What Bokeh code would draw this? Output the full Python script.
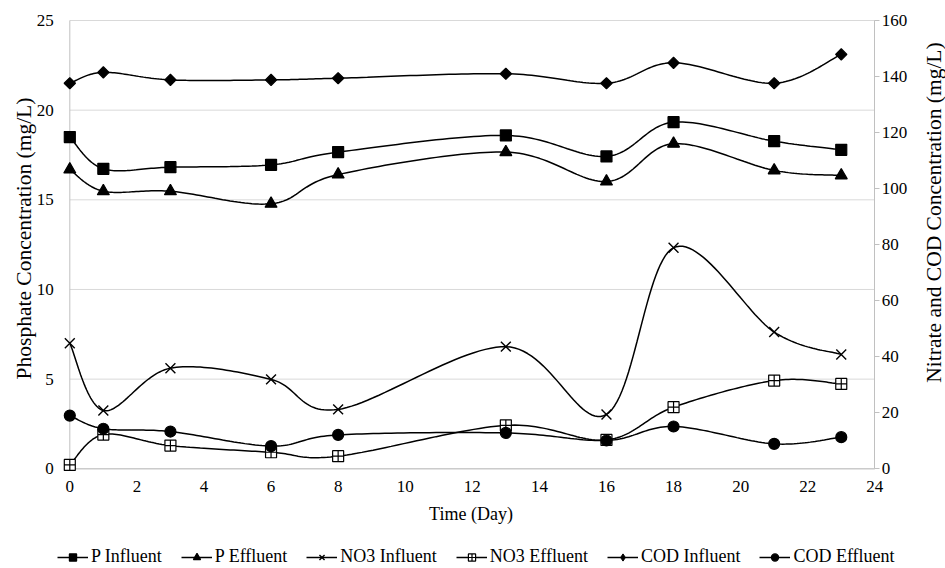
import numpy as np
from bokeh.plotting import figure
from bokeh.models import Range1d, LinearAxis, FixedTicker, Legend, LegendItem, Label
from bokeh.embed import file_html
from bokeh.resources import INLINE

# ---------------- data ----------------
days = [0, 1, 3, 6, 8, 13, 16, 18, 21, 23]
p_influent = [18.5, 16.73, 16.82, 16.95, 17.66, 18.59, 17.42, 19.33, 18.27, 17.79]
p_effluent = [16.69, 15.48, 15.48, 14.78, 16.41, 17.66, 16.02, 18.13, 16.64, 16.36]
no3_influent = [44.8, 20.8, 35.9, 31.9, 21.2, 43.6, 19.4, 78.9, 48.8, 40.8]
no3_effluent = [1.4, 12.2, 8.3, 5.9, 4.5, 15.5, 10.3, 22.0, 31.5, 30.3]
cod_influent = [137.6, 141.5, 138.8, 138.8, 139.4, 141.0, 137.6, 144.9, 137.6, 147.9]
cod_effluent = [19.0, 14.3, 13.3, 8.1, 12.1, 12.8, 10.1, 15.1, 8.9, 11.3]

x_ticks = list(range(0, 25, 2))
left_ticks = [0, 5, 10, 15, 20, 25]
right_ticks = list(range(0, 161, 20))

series_labels = ["P Influent", "P Effluent", "NO3 Influent", "NO3 Effluent",
                 "COD Influent", "COD Effluent"]

FONT = "Liberation Serif"
GRID = "#d9d9d9"
AXIS = "#c0c0c0"
W, H = 945, 568


def smooth(xs, ys, n=30):
    """Excel-like smoothed line: cubic Bezier with Catmull-Rom control points."""
    P = np.column_stack([np.asarray(xs, float), np.asarray(ys, float)])
    Q = np.vstack([P[0], P, P[-1]])
    t = np.linspace(0, 1, n)[:, None]
    pts = []
    for i in range(len(P) - 1):
        p0, p3 = P[i], P[i + 1]
        c1 = p0 + (Q[i + 2] - Q[i]) / 6.0
        c2 = p3 - (Q[i + 3] - Q[i + 1]) / 6.0
        seg = ((1 - t) ** 3) * p0 + 3 * ((1 - t) ** 2) * t * c1 + 3 * (1 - t) * t ** 2 * c2 + t ** 3 * p3
        pts.append(seg if i == 0 else seg[1:])
    pts = np.vstack(pts)
    return pts[:, 0], pts[:, 1]


# the frame covers the whole canvas; the axis box sits inside it
box_left, box_right, box_top, box_bottom = 69.3, 874.3, 20.0, 468.3   # pixels
xpx = (box_right - box_left) / (x_ticks[-1] - x_ticks[0])
ypx = (box_bottom - box_top) / (left_ticks[-1] - left_ticks[0])
x_lo = x_ticks[0] - box_left / xpx
x_hi = x_ticks[-1] + (W - box_right) / xpx
y_lo = left_ticks[0] - (H - box_bottom) / ypx
y_hi = left_ticks[-1] + box_top / ypx
ratio = right_ticks[-1] / left_ticks[-1]

p = figure(width=W, height=H, output_backend="svg", toolbar_location=None,
           x_range=Range1d(x_lo, x_hi), y_range=Range1d(y_lo, y_hi),
           min_border_left=0, min_border_right=0, min_border_top=0,
           min_border_bottom=0)
p.title.visible = False
p.extra_y_ranges = {"right": Range1d(y_lo * ratio, y_hi * ratio)}
p.outline_line_color = None
p.background_fill_color = "white"
p.border_fill_color = "white"
p.xgrid.visible = False
p.ygrid.visible = False

# gridlines limited to the axis box, then the left/bottom axis lines
n = len(left_ticks)
p.segment(x0=[x_ticks[0]] * n, x1=[x_ticks[-1]] * n, y0=left_ticks, y1=left_ticks,
          line_color=GRID, line_width=1)
p.segment(x0=[x_ticks[0], x_ticks[0]], x1=[x_ticks[0], x_ticks[-1]],
          y0=[left_ticks[0], left_ticks[0]], y1=[left_ticks[-1], left_ticks[0]],
          line_color=AXIS, line_width=1)

# x axis
xa = p.xaxis[0]
xa.fixed_location = left_ticks[0]
xa.ticker = FixedTicker(ticks=x_ticks)
xa.major_tick_in = 0
xa.major_tick_out = 0
xa.minor_tick_in = 0
xa.minor_tick_out = 0
xa.major_tick_line_color = None
xa.minor_tick_line_color = None
xa.axis_line_color = None
xa.major_label_standoff = 12
xa.major_label_text_font = FONT
xa.major_label_text_font_size = "17px"
xa.major_label_text_color = "black"

# left axis
ya = p.yaxis[0]
ya.fixed_location = x_ticks[0]
ya.ticker = FixedTicker(ticks=left_ticks)
ya.major_tick_in = 0
ya.major_tick_out = 0
ya.minor_tick_in = 0
ya.minor_tick_out = 0
ya.major_tick_line_color = None
ya.minor_tick_line_color = None
ya.axis_line_color = None
ya.major_label_standoff = 16
ya.major_label_text_font = FONT
ya.major_label_text_font_size = "17px"
ya.major_label_text_color = "black"

# right axis
ra = LinearAxis(y_range_name="right", fixed_location=x_ticks[-1],
                bounds=(right_ticks[0], right_ticks[-1]),
                ticker=FixedTicker(ticks=right_ticks),
                major_tick_in=0, major_tick_out=5, minor_tick_in=0, minor_tick_out=0,
                major_tick_line_color=AXIS, minor_tick_line_color=None,
                axis_line_color=AXIS, major_label_standoff=2,
                major_label_text_font=FONT, major_label_text_font_size="17px",
                major_label_text_color="black")
p.add_layout(ra, "right")

# axis titles
title_style = dict(x_units="screen", y_units="screen", text_align="center",
                   text_baseline="middle", text_font=FONT, text_color="black")
p.add_layout(Label(x=470.5, y=H - 513, text="Time (Day)", text_font_size="18px",
                   **title_style))
p.add_layout(Label(x=23, y=H - 238, text="Phosphate Concentration (mg/L)",
                   angle=np.pi / 2, text_font_size="21.5px", **title_style))
p.add_layout(Label(x=933, y=H - 212, text="Nitrate and COD Concentration (mg/L)",
                   angle=np.pi / 2, text_font_size="21.5px", **title_style))

# series
styles = [
    dict(data=p_influent, rng="default", marker="square", size=11, fill="black", angle=0.0),
    dict(data=p_effluent, rng="default", marker="triangle", size=12, fill="black", angle=0.0),
    dict(data=no3_influent, rng="right", marker="x", size=14, fill="black", angle=0.0),
    dict(data=no3_effluent, rng="right", marker="square_cross", size=11, fill="white", angle=0.0),
    dict(data=cod_influent, rng="right", marker="square", size=8, fill="black", angle=np.pi / 4),
    dict(data=cod_effluent, rng="right", marker="circle", size=11, fill="black", angle=0.0),
]

items = []
for lab, st in zip(series_labels, styles):
    sx, sy = smooth(days, st["data"])
    lr = p.line(sx, sy, line_color="black", line_width=1.5, y_range_name=st["rng"])
    lw = 1.4 if st["marker"] == "x" else 1.2
    mr = p.scatter(days, st["data"], marker=st["marker"], size=st["size"],
                   fill_color=st["fill"], line_color="black", line_width=lw,
                   angle=st["angle"], y_range_name=st["rng"])
    rends = [lr, mr]
    if st["angle"] != 0.0:
        # legend glyphs ignore the angle, so the legend gets its own diamond key
        # (a single NaN point: nothing is drawn in the plot area)
        key = p.scatter(x=[np.nan], y=[np.nan], marker="diamond", size=14,
                        fill_color=st["fill"], line_color="black", line_width=1.0,
                        y_range_name=st["rng"])
        rends = [lr, key]
    items.append(LegendItem(label=lab, renderers=rends))

legend = Legend(items=items, orientation="horizontal", location=(57, 1),
                padding=0, margin=0, spacing=19, glyph_width=31, glyph_height=18,
                label_height=18, label_standoff=3, label_text_font=FONT,
                label_text_font_size="18px", label_text_color="black",
                border_line_color=None, background_fill_alpha=0)
p.add_layout(legend)

open("out.html", "w").write(file_html(p, INLINE))
